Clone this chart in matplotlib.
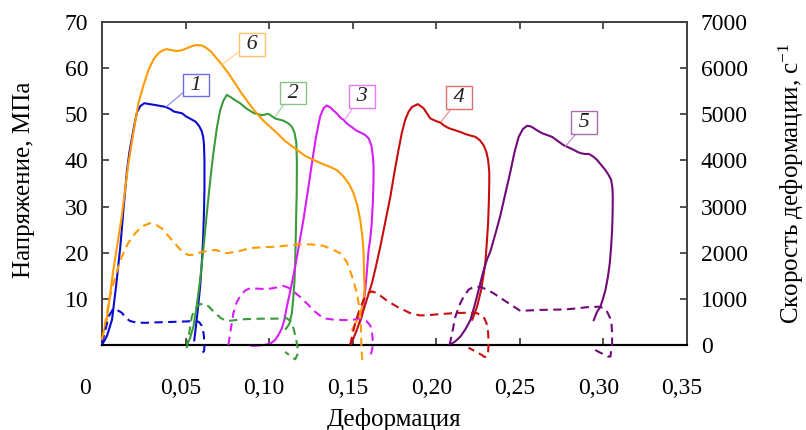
import matplotlib
matplotlib.use("Agg")
import matplotlib.pyplot as plt
from matplotlib.colors import to_rgb
from matplotlib.ticker import FixedLocator, FuncFormatter
from matplotlib.transforms import ScaledTranslation

plt.rcParams["font.family"] = ["Liberation Serif", "DejaVu Serif"]
plt.rcParams["mathtext.fontset"] = "custom"
plt.rcParams["mathtext.rm"] = "Liberation Serif"
plt.rcParams["mathtext.it"] = "Liberation Serif:italic"

# --- specimen 1 ---
strain_1 = [0.000, 0.003, 0.006, 0.0085, 0.011, 0.013, 0.015, 0.0165, 0.018, 0.0195, 0.021,
            0.023, 0.0253, 0.0285, 0.032, 0.035, 0.038, 0.0405, 0.043, 0.0455, 0.048, 0.050,
            0.052, 0.054, 0.056, 0.058, 0.0595, 0.0605, 0.061, 0.0613, 0.0613, 0.061, 0.0605,
            0.0597, 0.0588, 0.0577, 0.0565, 0.0552]
stress_1 = [0.0, 2.0, 5.5, 13.0, 21.5, 30.0, 38.0, 42.0, 45.0, 48.0, 50.5,
            51.8, 52.4, 52.2, 52.0, 51.8, 51.6, 51.2, 50.6, 50.4, 50.2, 49.6,
            49.2, 48.8, 48.4, 47.5, 46.5, 45.2, 43.5, 40.0, 34.0, 28.6, 23.0,
            17.8, 13.0, 9.0, 5.0, 1.0]
rate_strain_1 = [0.000, 0.002, 0.004, 0.0068, 0.009, 0.0118, 0.0145, 0.0168, 0.020, 0.0257,
                 0.032, 0.0417, 0.050, 0.0557, 0.058, 0.0595, 0.0605, 0.061, 0.0613, 0.0611,
                 0.0601, 0.059, 0.0577]
rate_1 = [40, 320, 620, 790, 760, 700, 580, 520, 490, 480,
          490, 500, 510, 520, 500, 430, 320, 180, -20, -130,
          -170, -140, -110]

# --- specimen 2 ---
strain_2 = [0.0507, 0.0527, 0.0547, 0.0567, 0.0587, 0.0607, 0.0627, 0.0647, 0.0666, 0.0687,
            0.0707, 0.0727, 0.0747, 0.0766, 0.0786, 0.0826, 0.0866, 0.0906, 0.0956, 0.0996,
            0.1036, 0.1086, 0.1116, 0.1136, 0.1152, 0.1162, 0.1166, 0.1165, 0.1162, 0.1158,
            0.1152, 0.1144, 0.1136, 0.112, 0.110]
stress_2 = [0.0, 1.5, 4.0, 8.5, 14.1, 21.0, 28.5, 35.5, 41.5, 47.0,
            50.9, 53.0, 54.2, 53.8, 53.3, 52.4, 51.2, 50.3, 49.8, 50.1,
            49.1, 48.6, 48.0, 47.3, 46.0, 44.0, 40.0, 33.0, 28.5, 21.0,
            14.1, 10.0, 6.9, 4.5, 3.5]
rate_strain_2 = [0.0507, 0.0517, 0.0527, 0.0537, 0.0552, 0.0567, 0.0587, 0.0607, 0.0637, 0.0677,
                 0.0712, 0.0746, 0.080, 0.0856, 0.095, 0.1036, 0.1106, 0.113, 0.1146, 0.116,
                 0.117, 0.117, 0.1156, 0.1135, 0.1096]
rate_2 = [-70, 150, 380, 610, 750, 830, 880, 900, 840, 690,
          580, 520, 540, 560, 570, 570, 580, 510, 360, 150,
          -40, -200, -310, -260, -150]

# --- specimen 3 ---
strain_3 = [0.0896, 0.0936, 0.0966, 0.0986, 0.1011, 0.1036, 0.1056, 0.1076, 0.1091, 0.1106,
            0.1131, 0.1156, 0.118, 0.1205, 0.123, 0.1256, 0.128, 0.1305, 0.1325, 0.1345,
            0.1365, 0.1385, 0.1405, 0.1425, 0.1445, 0.1465, 0.1495, 0.1525, 0.1555, 0.1575,
            0.1595, 0.1612, 0.162, 0.1625, 0.1624, 0.1621, 0.1613, 0.1605, 0.1595, 0.1585,
            0.1575, 0.1565, 0.1555, 0.154]
stress_3 = [-0.2, -0.1, 0.0, 0.1, 0.4, 1.1, 2.2, 3.6, 5.5, 8.3,
            12.5, 17.0, 22.0, 27.1, 33.0, 39.4, 45.0, 49.5, 51.3, 51.9,
            51.5, 50.8, 50.2, 49.3, 48.8, 48.0, 47.2, 46.4, 45.9, 45.5,
            44.8, 43.2, 41.0, 38.6, 35.0, 31.4, 26.0, 23.0, 20.6, 16.0,
            11.9, 9.0, 6.1, 4.7]
rate_strain_3 = [0.0756, 0.0771, 0.0786, 0.0806, 0.0826, 0.0856, 0.0886, 0.094, 0.0986, 0.1036,
                 0.1086, 0.1116, 0.1146, 0.1186, 0.1226, 0.1275, 0.1325, 0.1385, 0.1445, 0.1495,
                 0.1545, 0.1585, 0.1605, 0.1615, 0.162, 0.1618, 0.1615, 0.1605, 0.1589]
rate_3 = [0, 350, 690, 930, 1050, 1180, 1230, 1220, 1210, 1240,
          1280, 1240, 1160, 1040, 900, 720, 580, 550, 540, 540,
          580, 510, 420, 330, 70, -50, -110, -250, -270]

# --- specimen 4 ---
strain_4 = [0.1485, 0.1505, 0.1525, 0.1545, 0.1565, 0.159, 0.1615, 0.164, 0.1665, 0.1695,
            0.1725, 0.175, 0.1774, 0.1794, 0.1814, 0.1835, 0.1855, 0.189, 0.1924, 0.1944,
            0.1964, 0.1994, 0.2024, 0.2049, 0.2074, 0.2099, 0.2124, 0.2149, 0.2174, 0.2204,
            0.2234, 0.226, 0.2283, 0.2300, 0.231, 0.2317, 0.2317, 0.2314, 0.231, 0.2302,
            0.2293, 0.2281, 0.2268, 0.2244, 0.2215]
stress_4 = [0.0, 1.5, 3.3, 5.4, 7.6, 10.5, 13.4, 17.2, 21.3, 26.7,
            32.1, 37.5, 42.3, 46.0, 48.8, 50.6, 51.6, 52.2, 51.3, 50.2,
            49.1, 48.6, 48.2, 47.5, 47.0, 46.7, 46.4, 46.1, 45.7, 45.4,
            45.1, 44.4, 43.3, 41.8, 40.1, 37.5, 35.0, 30.5, 26.4, 22.0,
            17.7, 14.8, 11.9, 8.3, 5.5]
rate_strain_4 = [0.1485, 0.15, 0.1515, 0.153, 0.1545, 0.156, 0.1575, 0.1595, 0.1615, 0.164,
                 0.1665, 0.1705, 0.1765, 0.1844, 0.1904, 0.1964, 0.2024, 0.2104, 0.2184, 0.2244,
                 0.2283, 0.2300, 0.231, 0.2313, 0.231, 0.2304, 0.2289, 0.2274, 0.2245, 0.2193]
rate_4 = [0, 250, 470, 650, 800, 930, 1050, 1130, 1160, 1130,
          1070, 960, 830, 690, 640, 650, 670, 690, 700, 690,
          610, 480, 280, 40, -150, -250, -260, -220, -160, -60]

# --- specimen 5 ---
strain_5 = [0.208, 0.2114, 0.2144, 0.2174, 0.2204, 0.2229, 0.2253, 0.2278, 0.2303, 0.2323,
            0.2353, 0.2383, 0.2413, 0.2443, 0.2468, 0.2493, 0.2518, 0.2543, 0.2563, 0.2583,
            0.2608, 0.2633, 0.2663, 0.2693, 0.2727, 0.2762, 0.2792, 0.2822, 0.2847, 0.2872,
            0.2892, 0.2912, 0.2937, 0.2962, 0.2987, 0.3012, 0.3032, 0.3046, 0.3054, 0.3056,
            0.3055, 0.3052, 0.3046, 0.3038, 0.3027, 0.3012, 0.2997, 0.2982, 0.2962, 0.2942]
stress_5 = [0.0, 0.8, 1.8, 3.4, 5.4, 8.5, 11.9, 15.5, 18.5, 20.2,
            24.0, 28.0, 32.8, 37.5, 41.8, 45.1, 46.8, 47.5, 47.4, 47.0,
            46.4, 45.9, 45.5, 45.1, 44.2, 43.3, 42.8, 42.3, 41.8, 41.5,
            41.4, 41.4, 40.9, 40.1, 39.0, 37.9, 36.8, 35.8, 34.0, 32.1,
            28.5, 24.9, 21.3, 17.7, 14.8, 11.9, 10.0, 8.3, 7.2, 5.4]
rate_strain_5 = [0.208, 0.2097, 0.2114, 0.2139, 0.2164, 0.2194, 0.2223, 0.2263, 0.2303, 0.2343,
                 0.2393, 0.2443, 0.2503, 0.2563, 0.2623, 0.2692, 0.2762, 0.2832, 0.2902, 0.2972,
                 0.3002, 0.3022, 0.3038, 0.3048, 0.3052, 0.3052, 0.3042, 0.3027, 0.3012, 0.2972,
                 0.2942]
rate_5 = [0, 300, 610, 870, 1050, 1200, 1260, 1260, 1200, 1120,
          1000, 880, 740, 750, 760, 765, 770, 790, 820, 830,
          800, 720, 600, 470, 250, 40, -250, -250, -220, -150,
          -90]

# --- specimen 6 ---
strain_6 = [0.000, 0.0028, 0.0068, 0.0118, 0.0158, 0.019, 0.0218, 0.025, 0.0278, 0.031,
            0.0337, 0.0365, 0.0387, 0.0415, 0.0447, 0.048, 0.0507, 0.054, 0.0567, 0.060,
            0.0627, 0.0655, 0.0677, 0.0716, 0.0756, 0.0796, 0.0836, 0.0876, 0.0916, 0.0966,
            0.1036, 0.1096, 0.1166, 0.1215, 0.1265, 0.1315, 0.1365, 0.141, 0.1445, 0.148,
            0.1505, 0.1528, 0.1545, 0.1558, 0.1565, 0.1568, 0.1571, 0.1565, 0.1555, 0.1525,
            0.1497]
stress_6 = [1.5, 5.4, 16.3, 27.8, 39.4, 46.5, 52.4, 56.5, 59.6, 62.0,
            63.2, 63.9, 64.1, 63.9, 63.7, 63.9, 64.3, 64.8, 65.0, 64.9,
            64.3, 63.5, 62.5, 60.8, 58.9, 56.7, 54.5, 52.5, 50.6, 48.6,
            46.3, 44.2, 42.3, 41.0, 40.1, 39.3, 38.6, 37.8, 36.5, 34.8,
            32.9, 30.2, 27.1, 23.5, 20.0, 15.5, 12.0, 10.0, 8.0, 5.4,
            3.3]
rate_strain_6 = [0.000, 0.0048, 0.0085, 0.0118, 0.0155, 0.0198, 0.024, 0.0287, 0.0325, 0.0357,
                 0.040, 0.0437, 0.048, 0.0517, 0.0557, 0.0597, 0.0677, 0.0747, 0.0816, 0.0886,
                 0.0966, 0.1046, 0.1166, 0.1255, 0.1325, 0.1385, 0.1425, 0.1465, 0.1495, 0.1525,
                 0.1545, 0.155, 0.1552, 0.1556, 0.156]
rate_6 = [110, 1050, 1550, 1910, 2200, 2420, 2570, 2640, 2600, 2530,
          2350, 2200, 2020, 1950, 1960, 2020, 2060, 1990, 2030, 2100,
          2120, 2130, 2180, 2180, 2150, 2060, 1990, 1800, 1500, 1120,
          700, 300, -50, -250, -380]

specimens = [
    ("1", strain_1, stress_1, rate_strain_1, rate_1, "#0b0bd0"),
    ("2", strain_2, stress_2, rate_strain_2, rate_2, "#3b9b3b"),
    ("3", strain_3, stress_3, rate_strain_3, rate_3, "#d61ef5"),
    ("4", strain_4, stress_4, rate_strain_4, rate_4, "#c70d0d"),
    ("5", strain_5, stress_5, rate_strain_5, rate_5, "#700a7a"),
    ("6", strain_6, stress_6, rate_strain_6, rate_6, "#ff9b00"),
]

# label box centre and the point on the curve its leader goes to
label_spots = {
    "1": ((0.0564, 56.3), (0.0383, 51.6), (0.0, 0.2)),
    "6": ((0.0896, 65.1), (0.0717, 60.7), (0.0, 0.2)),
    "2": ((0.1143, 54.6), (0.1036, 49.5), (0.15, 0.0)),
    "3": ((0.1555, 53.9), (0.1455, 48.9), (0.15, 0.0)),
    "4": ((0.2138, 53.6), (0.2028, 48.4), (0.2, 0.0)),
    "5": ((0.2884, 48.2), (0.2772, 43.0), (0.2, 0.0)),
}

x_ticks = [0, 0.05, 0.10, 0.15, 0.20, 0.25, 0.30, 0.35]
stress_ticks = [10, 20, 30, 40, 50, 60, 70]
rate_ticks = [0, 1000, 2000, 3000, 4000, 5000, 6000, 7000]


def tint(color, amount):
    r, g, b = to_rgb(color)
    return (r + (1 - r) * amount, g + (1 - g) * amount, b + (1 - b) * amount)


fig = plt.figure(figsize=(8.06, 4.30), dpi=100)
ax = fig.add_axes([102 / 806, 1 - 345 / 430, 585 / 806, 323 / 430])
ax2 = ax.twinx()

for name, eps, sig, eps_r, rate, color in specimens:
    ax.plot(eps, sig, color=color, lw=1.5, clip_on=False, zorder=3)
    ax2.plot(eps_r, rate, color=color, lw=1.5, ls=(0, (4, 2.6)), clip_on=False, zorder=3)

for name, eps, sig, eps_r, rate, color in specimens:
    (bx, by), (px, py), rel = label_spots[name]
    ax.annotate(" " + name + " ", xy=(px, py), xytext=(bx, by),
                ha="center", va="center", fontsize=16, style="italic", color="#222222",
                bbox=dict(boxstyle="square,pad=0.08", fc="white", ec=tint(color, 0.4), lw=1.0),
                arrowprops=dict(arrowstyle="-", color=tint(color, 0.5), lw=0.8,
                                relpos=rel, shrinkA=0, shrinkB=0),
                zorder=5)

for a in (ax, ax2):
    for side in ("top", "left", "right"):
        a.spines[side].set_color("#444444")
        a.spines[side].set_linewidth(1.3)
    a.spines["bottom"].set_color("black")
    a.spines["bottom"].set_linewidth(1.5)

ax.set_xlim(0, 0.35)
ax.set_ylim(0, 70)
ax2.set_ylim(0, 7000)

ax.xaxis.set_major_locator(FixedLocator(x_ticks))
ax.xaxis.set_major_formatter(FuncFormatter(lambda v, p: "0" if v == 0 else f"{v:.2f}".replace(".", ",")))
ax.yaxis.set_major_locator(FixedLocator(stress_ticks))
ax2.yaxis.set_major_locator(FixedLocator(rate_ticks))

ax.tick_params(axis="x", direction="in", top=True, length=5, width=1.2, pad=24,
               labelsize=17, color="#333333")
ax.tick_params(axis="y", direction="in", length=5, width=1.2, pad=10, labelsize=17,
               color="#333333")
ax2.tick_params(axis="y", direction="in", length=5, width=1.2, pad=10, labelsize=17,
                color="#333333")

# x tick labels sit a little left of their ticks in the original
for i, tick in enumerate(ax.xaxis.get_major_ticks()):
    shift = -17 if i == 0 else -5
    tick.label1.set_transform(tick.label1.get_transform()
                              + ScaledTranslation(shift / 100, 0, fig.dpi_scale_trans))

ax.set_xlabel("Деформация", fontsize=18, labelpad=6)
fig.text(24 / 806, 1 - 180 / 430, "Напряжение, МПа", rotation=90,
         ha="center", va="center", fontsize=18)
fig.text(791 / 806, 1 - 183 / 430, "Скорость деформации, с$^{-1}$", rotation=90,
         ha="center", va="center", fontsize=18)

fig.savefig("out.png", dpi=100)
